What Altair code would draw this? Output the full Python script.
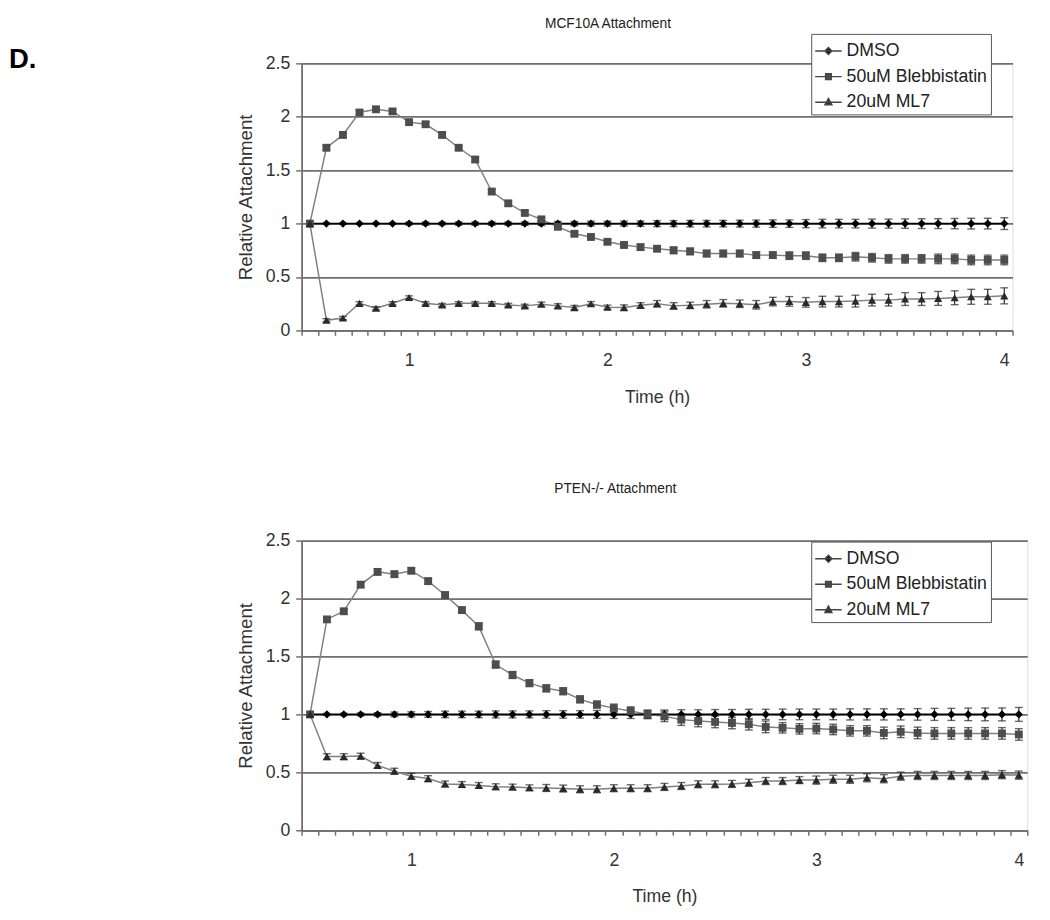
import altair as alt
import pandas as pd

FONT = "Liberation Sans"
SERIES = ["DMSO", "50uM Blebbistatin", "20uM ML7"]

# time points in minutes (category axis of the original, 5-minute steps)
TIME_MIN = [30, 35, 40, 45, 50, 55, 60, 65, 70, 75,
            80, 85, 90, 95, 100, 105, 110, 115, 120, 125,
            130, 135, 140, 145, 150, 155, 160, 165, 170, 175,
            180, 185, 190, 195, 200, 205, 210, 215, 220, 225,
            230, 235, 240]

# ---------------- MCF10A ----------------
DMSO_TOP = [1.0, 1.0, 1.0, 1.0, 1.0, 1.0, 1.0, 1.0, 1.0, 1.0,
            1.0, 1.0, 1.0, 1.0, 1.0, 1.0, 1.0, 1.0, 1.0, 1.0,
            1.0, 1.0, 1.0, 1.0, 1.0, 1.0, 1.0, 1.0, 1.0, 1.0,
            1.0, 1.0, 1.0, 1.0, 1.0, 1.0, 1.0, 1.0, 1.0, 1.0,
            1.0, 1.0, 1.0]
DMSO_TOP_ERR = [0.0, 0.005, 0.005, 0.005, 0.006, 0.006, 0.012, 0.015, 0.012, 0.015,
                0.015, 0.016, 0.015, 0.016, 0.018, 0.02, 0.02, 0.022, 0.022, 0.024,
                0.025, 0.028, 0.028, 0.03, 0.03, 0.03, 0.032, 0.033, 0.035, 0.035,
                0.038, 0.04, 0.04, 0.04, 0.042, 0.042, 0.044, 0.046, 0.046, 0.048,
                0.05, 0.05, 0.055]
BLEB_TOP = [1.00, 1.71, 1.83, 2.04, 2.07, 2.05, 1.95, 1.93, 1.83, 1.71,
            1.60, 1.30, 1.19, 1.10, 1.04, 0.97, 0.905, 0.875, 0.83, 0.80,
            0.78, 0.765, 0.75, 0.74, 0.72, 0.72, 0.72, 0.705, 0.705, 0.70,
            0.70, 0.68, 0.68, 0.69, 0.68, 0.67, 0.67, 0.67, 0.67, 0.67,
            0.66, 0.66, 0.66]
BLEB_TOP_ERR = [0.0, 0.02, 0.02, 0.02, 0.02, 0.02, 0.02, 0.02, 0.02, 0.02,
                0.02, 0.02, 0.02, 0.02, 0.02, 0.02, 0.02, 0.02, 0.02, 0.025,
                0.025, 0.025, 0.03, 0.03, 0.03, 0.03, 0.03, 0.03, 0.03, 0.035,
                0.035, 0.035, 0.035, 0.04, 0.04, 0.04, 0.04, 0.04, 0.045, 0.045,
                0.045, 0.045, 0.045]
ML7_TOP = [1.00, 0.095, 0.116, 0.254, 0.208, 0.254, 0.309, 0.254, 0.238, 0.254,
           0.254, 0.254, 0.238, 0.23, 0.245, 0.23, 0.214, 0.25, 0.217, 0.214,
           0.235, 0.25, 0.23, 0.235, 0.245, 0.254, 0.25, 0.24, 0.27, 0.272,
           0.263, 0.27, 0.27, 0.275, 0.284, 0.284, 0.294, 0.294, 0.30, 0.306,
           0.315, 0.315, 0.324]
ML7_TOP_ERR = [0.0, 0.015, 0.015, 0.015, 0.015, 0.015, 0.015, 0.015, 0.015, 0.015,
               0.015, 0.015, 0.015, 0.015, 0.02, 0.02, 0.02, 0.02, 0.02, 0.025,
               0.025, 0.03, 0.03, 0.03, 0.035, 0.035, 0.035, 0.04, 0.04, 0.045,
               0.045, 0.05, 0.05, 0.055, 0.055, 0.055, 0.06, 0.06, 0.065, 0.065,
               0.07, 0.07, 0.075]

# ---------------- PTEN-/- ----------------
DMSO_BOT = [1.0, 1.0, 1.0, 1.0, 1.0, 1.0, 1.0, 1.0, 1.0, 1.0,
            1.0, 1.0, 1.0, 1.0, 1.0, 1.0, 1.0, 1.0, 1.0, 1.0,
            1.0, 1.0, 1.0, 1.0, 1.0, 1.0, 1.0, 1.0, 1.0, 1.0,
            1.0, 1.0, 1.0, 1.0, 1.0, 1.0, 1.0, 1.0, 1.0, 1.0,
            1.0, 1.0, 1.0]
DMSO_BOT_ERR = [0.0, 0.008, 0.01, 0.012, 0.015, 0.02, 0.022, 0.025, 0.028, 0.028,
                0.028, 0.03, 0.03, 0.03, 0.032, 0.032, 0.032, 0.034, 0.035, 0.035,
                0.036, 0.038, 0.04, 0.04, 0.042, 0.042, 0.044, 0.044, 0.046, 0.046,
                0.046, 0.046, 0.048, 0.048, 0.048, 0.048, 0.05, 0.052, 0.052, 0.054,
                0.055, 0.056, 0.06]
BLEB_BOT = [1.00, 1.82, 1.89, 2.12, 2.23, 2.21, 2.24, 2.15, 2.03, 1.90,
            1.76, 1.43, 1.34, 1.27, 1.225, 1.20, 1.13, 1.085, 1.054, 1.03,
            1.00, 0.983, 0.955, 0.943, 0.935, 0.926, 0.915, 0.892, 0.884, 0.875,
            0.878, 0.87, 0.858, 0.858, 0.84, 0.85, 0.84, 0.836, 0.836, 0.836,
            0.836, 0.836, 0.827]
BLEB_BOT_ERR = [0.0, 0.02, 0.02, 0.025, 0.025, 0.025, 0.025, 0.025, 0.025, 0.025,
                0.03, 0.03, 0.03, 0.03, 0.03, 0.03, 0.03, 0.03, 0.035, 0.035,
                0.035, 0.045, 0.05, 0.05, 0.05, 0.05, 0.05, 0.05, 0.045, 0.045,
                0.045, 0.045, 0.045, 0.045, 0.05, 0.05, 0.05, 0.05, 0.05, 0.05,
                0.05, 0.05, 0.05]
ML7_BOT = [1.00, 0.636, 0.636, 0.64, 0.56, 0.51, 0.466, 0.446, 0.40, 0.395,
           0.387, 0.376, 0.373, 0.367, 0.365, 0.36, 0.354, 0.354, 0.363, 0.363,
           0.363, 0.374, 0.382, 0.397, 0.397, 0.40, 0.41, 0.425, 0.425, 0.433,
           0.433, 0.44, 0.44, 0.453, 0.445, 0.467, 0.473, 0.473, 0.473, 0.473,
           0.473, 0.48, 0.476]
ML7_BOT_ERR = [0.0, 0.025, 0.025, 0.025, 0.025, 0.025, 0.025, 0.025, 0.025, 0.025,
               0.025, 0.025, 0.025, 0.025, 0.03, 0.03, 0.03, 0.03, 0.03, 0.03,
               0.03, 0.03, 0.03, 0.03, 0.03, 0.03, 0.03, 0.03, 0.03, 0.03,
               0.035, 0.035, 0.035, 0.035, 0.035, 0.035, 0.035, 0.035, 0.035, 0.035,
               0.035, 0.035, 0.035]

Y_TICKS = [0, 0.5, 1, 1.5, 2, 2.5]


def frame(vals_errs):
    rows = []
    for name, (vals, errs) in zip(SERIES, vals_errs):
        assert len(vals) == len(TIME_MIN) and len(errs) == len(TIME_MIN)
        for m, v, e in zip(TIME_MIN, vals, errs):
            rows.append({"series": name, "t": m / 60.0, "v": v,
                         "lo": v - e, "hi": v + e, "err": e})
    return pd.DataFrame(rows)


df_top = frame([(DMSO_TOP, DMSO_TOP_ERR), (BLEB_TOP, BLEB_TOP_ERR), (ML7_TOP, ML7_TOP_ERR)])
df_bot = frame([(DMSO_BOT, DMSO_BOT_ERR), (BLEB_BOT, BLEB_BOT_ERR), (ML7_BOT, ML7_BOT_ERR)])

half = 2.5 / 60.0
BOUNDS = [m / 60.0 - half for m in TIME_MIN] + [TIME_MIN[-1] / 60.0 + half]
X_DOMAIN = [BOUNDS[0], BOUNDS[-1]]

LABEL_EXPR = ("abs((datum.value + 0.0416667) - round(datum.value + 0.0416667)) < 0.002"
              " ? '' + round(datum.value + 0.0416667) : ''")

SHAPE_PATHS = [
    "M-1,0H1M0,-0.26L0.26,0L0,0.26L-0.26,0Z",
    "M-1,0H1M-0.21,-0.21H0.21V0.21H-0.21Z",
    "M-1,0H1M0,-0.28L0.26,0.2L-0.26,0.2Z",
]

TXT = "#333333"
AXC = "#6f6f6f"


def panel(df, title, width, height, legend_y, title_offset, with_label=False):
    n = len(TIME_MIN)
    step_px = width / n
    xscale = alt.Scale(domain=X_DOMAIN, nice=False, zero=False)
    xaxis = alt.Axis(values=BOUNDS, labelExpr=LABEL_EXPR, labelOffset=step_px / 2,
                     labelOverlap=False, labelFlush=False, grid=False,
                     tickSize=5, tickColor=AXC, tickWidth=1.5,
                     domainColor=AXC, domainWidth=1.8,
                     labelFont=FONT, labelFontSize=18, labelColor=TXT,
                     labelPadding=17, title="Time (h)", titleFont=FONT,
                     titleFontSize=18, titleFontWeight="normal",
                     titleColor=TXT, titlePadding=19)
    yscale = alt.Scale(domain=[0, 2.5], nice=False, zero=True)
    yaxis = alt.Axis(values=Y_TICKS, format="~g", grid=True, gridColor=AXC,
                     gridWidth=1.8, tickSize=6, tickColor=AXC, tickWidth=1.5,
                     domainColor=AXC, domainWidth=1.8,
                     labelFont=FONT, labelFontSize=18, labelColor=TXT,
                     labelPadding=6, title="Relative Attachment", titleFont=FONT,
                     titleFontSize=19, titleFontWeight="normal",
                     titleColor=TXT, titlePadding=10)

    X = alt.X("t:Q", scale=xscale, axis=xaxis)
    Yv = alt.Y("v:Q", scale=yscale, axis=yaxis)
    base = alt.Chart(df)

    line_d = base.transform_filter(alt.datum.series == SERIES[0]).mark_line(
        strokeWidth=1.6, color="#000000").encode(x=X, y=Yv, order="t:Q")
    line_o = base.transform_filter(alt.datum.series != SERIES[0]).mark_line(
        strokeWidth=1.5, color="#808080").encode(
        x=X, y=Yv, detail="series:N", order="t:Q")

    eb = base.transform_filter("datum.err > 0")
    rules = eb.mark_rule(color="#2a2a2a", strokeWidth=1.2).encode(
        x=X, y=alt.Y("lo:Q", scale=yscale, axis=yaxis), y2="hi:Q")
    cap_lo = eb.mark_tick(orient="horizontal", size=8, thickness=1.4,
                          color="#2a2a2a").encode(
        x=X, y=alt.Y("lo:Q", scale=yscale, axis=yaxis))
    cap_hi = eb.mark_tick(orient="horizontal", size=8, thickness=1.4,
                          color="#2a2a2a").encode(
        x=X, y=alt.Y("hi:Q", scale=yscale, axis=yaxis))

    leg = alt.Legend(title=None, orient="none", legendX=519, legendY=legend_y,
                     direction="vertical", fillColor="white", strokeColor="#555555",
                     padding=3, labelFont=FONT, labelFontSize=18,
                     labelColor="#222222", symbolSize=729, symbolStrokeWidth=1.5,
                     rowPadding=2, labelOffset=4, symbolOpacity=1)
    # legend carrier: drawn only at the first time point, hidden under the markers
    dummy = base.transform_filter("datum.t < 0.51").mark_point(
        filled=True, stroke="#454545", strokeWidth=1.5, opacity=1).encode(
        x=X, y=Yv,
        shape=alt.Shape("series:N", scale=alt.Scale(domain=SERIES, range=SHAPE_PATHS),
                        legend=leg),
        color=alt.Color("series:N",
                        scale=alt.Scale(domain=SERIES,
                                        range=["#000000", "#505050", "#2a2a2a"]),
                        legend=leg),
    )

    pts_d = base.transform_filter(alt.datum.series == SERIES[0]).mark_point(
        shape="diamond", filled=True, size=70, color="#000000", opacity=1).encode(
        x=X, y=Yv)
    pts_b = base.transform_filter(alt.datum.series == SERIES[1]).mark_point(
        shape="square", filled=True, size=64, color="#4d4d4d", opacity=1).encode(
        x=X, y=Yv)
    pts_m = base.transform_filter(alt.datum.series == SERIES[2]).mark_point(
        shape="triangle-up", filled=True, size=70, color="#2a2a2a", opacity=1).encode(
        x=X, y=Yv)

    layers = [line_o, line_d, rules, cap_lo, cap_hi, dummy, pts_d, pts_b, pts_m]
    if with_label:
        lab = alt.Chart(pd.DataFrame({"lab": ["D."]})).mark_text(
            align="left", baseline="middle", font=FONT, fontSize=28,
            fontWeight="bold", color="#000000").encode(
            text="lab:N", x=alt.value(-298), y=alt.value(-3))
        layers.append(lab)
    return alt.layer(*layers).properties(
        width=width, height=height,
        title=alt.Title(title, font=FONT, fontSize=14, fontWeight="normal",
                        color="#222222", anchor="middle", dx=-50, offset=title_offset),
    )


top = panel(df_top, "MCF10A Attachment", 724, 272, -30, 3, with_label=True)
bot = panel(df_bot, "PTEN-/- Attachment", 739, 295, 1, 36)

chart = alt.vconcat(top, bot, spacing=214, bounds="flush").resolve_scale(
    color="independent", shape="independent"
).resolve_legend(
    color="independent", shape="independent"
).properties(
    padding={"left": 0, "top": 0, "right": 5, "bottom": 5}
).configure_view(stroke=AXC, strokeWidth=1.8).configure(background="white")

chart.save("out.html", embed_options={"renderer": "svg", "actions": False})
